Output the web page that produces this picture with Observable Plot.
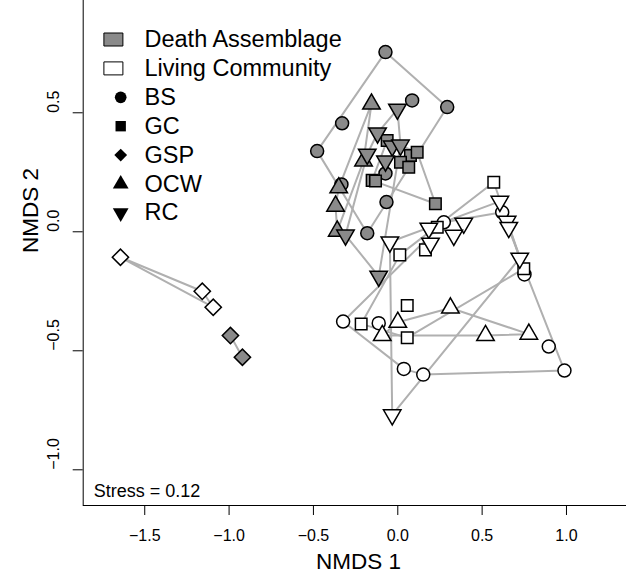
<!DOCTYPE html>
<html><head><meta charset="utf-8">
<script src="https://cdn.jsdelivr.net/npm/d3@7"></script>
<script src="https://cdn.jsdelivr.net/npm/@observablehq/plot@0.6"></script>
<style>
html,body{margin:0;padding:0;background:#fff;}
#chart svg{display:block;}
</style>
</head><body><div id="chart"></div>
<script>
// ---- data ----
const sites = ["BS", "GC", "GSP", "OCW", "RC"];
const types = ["Death Assemblage", "Living Community"];
const xTicks = [-1.5, -1.0, -0.5, 0.0, 0.5, 1.0];
const yTicks = [0.5, 0.0, -0.5, -1.0];
const xTitle = "NMDS 1";
const yTitle = "NMDS 2";
const stressLabel = "Stress = 0.12";

// NMDS scores [NMDS1, NMDS2], Death Assemblage
const deathBS  = [[-0.073,0.755],[0.085,0.552],[0.293,0.524],[-0.330,0.456],[-0.478,0.339],[-0.073,0.245],[-0.334,0.199],[-0.067,0.125],[-0.181,-0.006]];
const deathGC  = [[-0.063,0.384],[0.075,0.321],[0.115,0.334],[0.016,0.292],[0.065,0.271],[-0.152,0.216],[-0.132,0.213],[0.223,0.118]];
const deathGSP = [[-0.992,-0.436],[-0.921,-0.527]];
const deathOCW = [[-0.156,0.537],[-0.203,0.298],[-0.350,0.185],[-0.369,0.108],[-0.359,0.003]];
const deathRC  = [[-0.002,0.515],[-0.120,0.415],[-0.033,0.360],[0.016,0.364],[-0.181,0.326],[-0.073,0.297],[-0.310,-0.014],[-0.113,-0.187]];
// Living Community
const liveBS  = [[-0.324,-0.377],[-0.113,-0.384],[0.036,-0.576],[0.151,-0.600],[0.988,-0.583],[0.895,-0.482],[0.751,-0.179],[0.619,0.082],[0.273,0.040]];
const liveGC  = [[0.569,0.208],[0.234,0.019],[0.164,-0.076],[0.012,-0.097],[0.056,-0.310],[-0.217,-0.387],[0.056,-0.445],[0.747,-0.155]];
const liveGSP = [[-1.644,-0.107],[-1.159,-0.250],[-1.094,-0.317]];
const liveOCW = [[0.312,-0.320],[0.520,-0.436],[0.777,-0.430],[0.000,-0.380],[-0.092,-0.436]];
const liveRC  = [[0.605,0.128],[0.648,0.044],[0.658,0.018],[0.723,-0.111],[0.391,0.036],[0.332,-0.015],[0.184,0.015],[0.194,-0.048],[-0.047,-0.043],[-0.033,-0.769]];

// ---- build table ----
const groups = {
  "Death Assemblage": {BS: deathBS, GC: deathGC, GSP: deathGSP, OCW: deathOCW, RC: deathRC},
  "Living Community": {BS: liveBS, GC: liveGC, GSP: liveGSP, OCW: liveOCW, RC: liveRC}
};
const points = [];
for (const t of types) for (const s of sites)
  for (const [x, y] of groups[t][s]) points.push({type: t, site: s, x, y, group: t + "|" + s});

// ---- styles ----
const W = 626, H = 573;
const mL = 82.7, mR = 0, mT = 0, mB = 68;
const xDomain = [-1.8648, 1.3558];
const yDomain = [-1.15, 0.9718];
const fillOf = {"Death Assemblage": "#8a8a8a", "Living Community": "#ffffff"};
const symbolOf = {BS: "circle", GC: "square", GSP: "square", OCW: "triangle", RC: "triangle"};
const rotateOf = {BS: 0, GC: 0, GSP: 45, OCW: 0, RC: 180};
const legendSymR = {BS: 5.85, GC: 5.85, GSP: 5.1, OCW: 5.85, RC: 5.85};
const font = "'Liberation Sans', Arial, Helvetica, sans-serif";
const fmt = d3.format(".1f");

const boxSymbol = {draw(ctx) { ctx.rect(-9.5, -6.5, 19, 13); }};

const marks = [];
// hulls
marks.push(Plot.hull(points, {x: "x", y: "y", z: "group", stroke: "#b0b0b0", strokeWidth: 2, fill: "none"}));
// points
for (const t of types) for (const s of sites) {
  marks.push(Plot.dot(points.filter(d => d.type === t && d.site === s), {
    x: "x", y: "y", symbol: symbolOf[s], rotate: rotateOf[s], r: 6.5,
    fill: fillOf[t], stroke: "black", strokeWidth: 1.5
  }));
}
// axes
marks.push(Plot.ruleX([xDomain[0]], {stroke: "black", strokeWidth: 1}));
marks.push(Plot.ruleY([yDomain[0]], {stroke: "black", strokeWidth: 1}));
marks.push(Plot.axisX({ticks: xTicks, tickFormat: fmt, tickSize: 10, tickPadding: 14, fontSize: 16, label: null, stroke: "black"}));
marks.push(Plot.axisY({ticks: yTicks, tickFormat: () => "", tickSize: 10, label: null, stroke: "black"}));
marks.push(Plot.text(yTicks, {y: d => d, text: d => fmt(d), frameAnchor: "left", dx: -29.4, rotate: -90, lineAnchor: "middle", fontSize: 16, fill: "black"}));
marks.push(Plot.text([xTitle], {frameAnchor: "bottom", dx: 3.6, dy: 56, lineAnchor: "middle", fontSize: 22.5, fill: "black"}));
marks.push(Plot.text([yTitle], {frameAnchor: "left", dx: -52.7, dy: 0, rotate: -90, lineAnchor: "middle", fontSize: 22.5, fill: "black"}));
marks.push(Plot.text([stressLabel], {frameAnchor: "bottom-left", dx: 10.6, dy: -14.5, textAnchor: "start", lineAnchor: "middle", fontSize: 18, fill: "black"}));

// legend (inside plot, top-left)
const legendRows = [...types, ...sites];
legendRows.forEach((label, i) => {
  const dy = 39 + i * 28.9;
  if (i < 2) {
    marks.push(Plot.dot([label], {frameAnchor: "top-left", dx: 30.2, dy, symbol: boxSymbol, r: 5, fill: fillOf[label], stroke: "black", strokeWidth: 1}));
  } else {
    marks.push(Plot.dot([label], {frameAnchor: "top-left", dx: 37.5, dy, symbol: symbolOf[label], rotate: rotateOf[label], r: legendSymR[label], fill: "black", stroke: "none"}));
  }
  marks.push(Plot.text([label], {frameAnchor: "top-left", dx: 61.3, dy, text: d => d, textAnchor: "start", lineAnchor: "middle", fontSize: 23.5, fill: "black"}));
});

const chart = Plot.plot({
  width: W, height: H,
  marginLeft: mL, marginRight: mR, marginTop: mT, marginBottom: mB,
  x: {domain: xDomain},
  y: {domain: yDomain},
  style: {fontFamily: font, fontSize: "16px", background: "white", color: "black", overflow: "visible"},
  marks
});
document.getElementById("chart").appendChild(chart);
</script>
</body></html>
